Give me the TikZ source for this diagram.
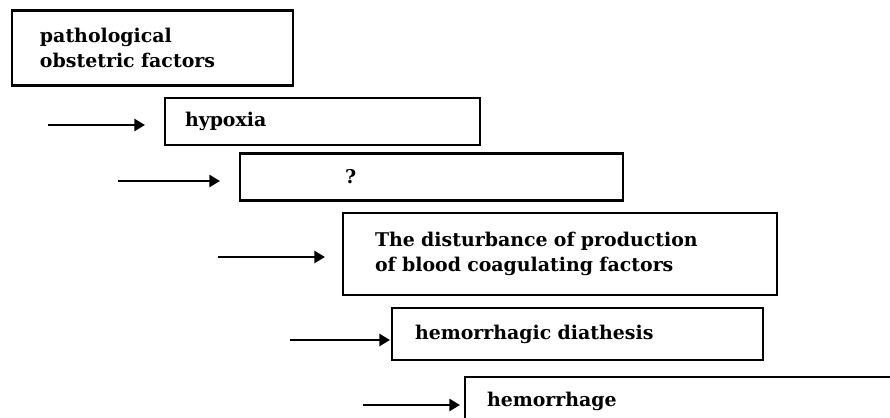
\documentclass[tikz,border=0pt]{standalone}
\usepackage{fontspec}
\setmainfont{DejaVu Serif}
\usetikzlibrary{arrows.meta}
\begin{document}
\begin{tikzpicture}[x=0.75pt,y=-0.75pt,
  stepbox/.style={draw,line width=2.1pt,rectangle,inner ysep=0pt,align=left,font=\fontsize{14.2}{18.75}\selectfont\bfseries},
  flow/.style={line width=2.2pt,-{Triangle[length=8pt,width=9pt]}}]
\useasboundingbox (0,0) rectangle (890,418);
\clip (0,0) rectangle (890,418);
\node[stepbox,minimum width=281*0.75pt,minimum height=75*0.75pt,text width=(281-56)*0.75pt,inner xsep=28*0.75pt] (b1) at (152.5,48) {pathological\\obstetric factors};
\node[stepbox,minimum width=315*0.75pt,minimum height=47*0.75pt,text width=(315-40)*0.75pt,inner xsep=20*0.75pt] (b2) at (322.5,121.5) {hypoxia};
\node[stepbox,minimum width=383*0.75pt,minimum height=47*0.75pt,text width=(383-210)*0.75pt,inner xsep=105*0.75pt] (b3) at (431.5,177) {?};
\node[stepbox,minimum width=434*0.75pt,minimum height=82*0.75pt,text width=(434-64)*0.75pt,inner xsep=32*0.75pt] (b4) at (560,254) {The disturbance of production\\of blood coagulating factors};
\node[stepbox,minimum width=371*0.75pt,minimum height=52*0.75pt,text width=(371-46)*0.75pt,inner xsep=23*0.75pt] (b5) at (577.5,334) {hemorrhagic diathesis};
\node[stepbox,minimum width=460*0.75pt,minimum height=48*0.75pt,text width=(460-44)*0.75pt,inner xsep=22*0.75pt] (b6) at (695,401) {hemorrhage};
\coordinate (a1s) at (48,125); \coordinate (a1e) at (145,125);
\coordinate (a2s) at (118,181); \coordinate (a2e) at (220,181);
\coordinate (a3s) at (218,257); \coordinate (a3e) at (325,257);
\coordinate (a4s) at (290,340); \coordinate (a4e) at (390,340);
\coordinate (a5s) at (363,405); \coordinate (a5e) at (460,405);
\draw[flow] (a1s) -- (a1e);
\draw[flow] (a2s) -- (a2e);
\draw[flow] (a3s) -- (a3e);
\draw[flow] (a4s) -- (a4e);
\draw[flow] (a5s) -- (a5e);
\end{tikzpicture}
\end{document}
